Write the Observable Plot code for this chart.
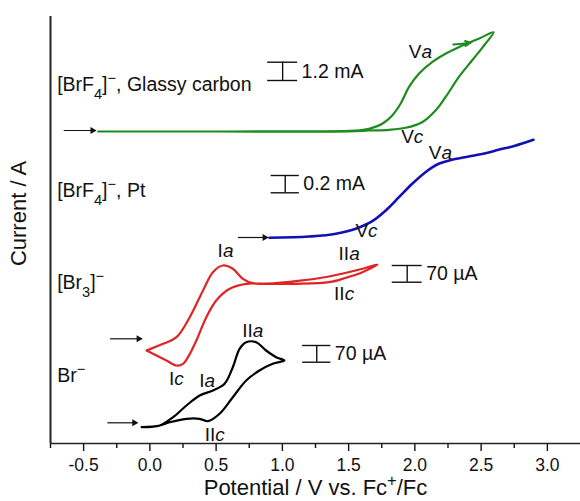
<!DOCTYPE html>
<html>
<head>
<meta charset="utf-8">
<script src="https://cdn.jsdelivr.net/npm/d3@7"></script>
<script src="https://cdn.jsdelivr.net/npm/@observablehq/plot@0.6"></script>
<style>
  html, body { margin: 0; padding: 0; background: #fff; }
  svg text { font-family: "Liberation Sans", Arial, sans-serif; }
</style>
</head>
<body>
<div id="chart"></div>
<script>
// ---- Data (potential in V vs Fc+/Fc, current as offset arbitrary units) ----
// [BrF4]-, Glassy carbon (forward then return)
const gcV = [-0.39, 0.5, 1.2, 1.55, 1.654, 1.754, 1.829, 1.892, 1.955, 2.030, 2.130, 2.231, 2.331, 2.481, 2.594, 2.532, 2.431, 2.331, 2.231, 2.156, 2.055, 1.930, 1.805, 1.654, 1.5, 0.5, -0.39];
const gcI = [31.2, 31.2, 31.22, 31.28, 31.47, 31.97, 32.8, 33.97, 35.63, 36.97, 38.13, 38.97, 39.63, 40.47, 41.13, 39.97, 38.3, 36.63, 34.63, 33.3, 32.13, 31.57, 31.37, 31.3, 31.22, 31.2, 31.2];
// [BrF4]-, Pt
const ptV = [0.902, 1.203, 1.404, 1.554, 1.679, 1.780, 1.880, 1.980, 2.080, 2.180, 2.280, 2.406, 2.532, 2.632, 2.75, 2.895];
const ptI = [20.57, 20.7, 20.97, 21.47, 22.23, 23.3, 24.63, 25.97, 27.13, 27.97, 28.37, 28.7, 29.03, 29.37, 29.75, 30.37];
// [Br3]-
const br3V = [-0.025, 0.100, 0.201, 0.301, 0.401, 0.476, 0.551, 0.626, 0.702, 0.777, 1.103, 1.353, 1.604, 1.717, 1.604, 1.479, 1.353, 1.103, 0.852, 0.727, 0.602, 0.501, 0.426, 0.351, 0.288, 0.250, 0.201, 0.125, 0.050, -0.025];
const br3I = [9.3, 9.97, 10.63, 12.63, 15.3, 17.13, 17.8, 17.47, 16.47, 16.03, 16.23, 16.7, 17.47, 17.9, 17.13, 16.57, 16.13, 15.97, 15.97, 15.97, 15.47, 14.3, 12.63, 10.3, 8.63, 7.97, 7.8, 8.3, 8.8, 9.3];
// Br-
const brV = [-0.062, 0.075, 0.175, 0.276, 0.376, 0.476, 0.564, 0.626, 0.677, 0.727, 0.802, 0.877, 0.953, 1.015, 0.927, 0.827, 0.727, 0.626, 0.526, 0.438, 0.376, 0.276, 0.150, 0.075, -0.062];
const brI = [1.63, 1.8, 2.63, 3.8, 4.8, 5.3, 5.97, 7.63, 9.47, 10.13, 10.13, 9.3, 8.63, 8.3, 7.97, 7.3, 6.3, 4.63, 2.97, 2.23, 2.47, 2.47, 2.13, 1.8, 1.63];

const seriesNames = ["[BrF_{4}]^{−}, Glassy carbon", "[BrF_{4}]^{−}, Pt", "[Br_{3}]^{−}", "Br^{−}"];
const seriesColors = ["#1f8a1f", "#1010b4", "#e02424", "#000000"];
const seriesCurves = ["catmull-rom", "monotone-x", "catmull-rom", "catmull-rom"];
const seriesLabelX = [-0.70, -0.70, -0.70, -0.70];
const seriesLabelY = [35.9, 25.3, 16.05, 6.75];

// Peak labels
const pkText = ["V*a*", "V*c*", "V*a*", "V*c*", "I*a*", "II*a*", "II*c*", "I*c*", "I*a*", "II*a*", "II*c*"];
const pkX = [2.042, 1.980, 2.193, 1.635, 0.571, 1.504, 1.466, 0.20, 0.432, 0.777, 0.489];
const pkY = [39.13, 30.63, 29.03, 21.3, 19.3, 19.0, 14.97, 6.5, 6.3, 11.3, 0.87];

// Scale bars
const sbText = ["1.2 mA", "0.2 mA", "70 µA", "70 µA"];
const sbX1 = [0.889, 0.915, 1.829, 1.153];
const sbX2 = [1.115, 1.128, 2.055, 1.366];
const sbTop = [38.13, 26.8, 17.8, 9.8];
const sbBot = [36.3, 25.07, 16.13, 8.13];

// Start-of-scan arrows
const arX1 = [-0.65, 0.664, -0.30, -0.321];
const arX2 = [-0.41, 0.889, -0.062, -0.095];
const arY = [31.3, 20.6, 10.47, 2.07];
// Scan-direction arrow on glassy carbon curve
const dirX1 = [2.29], dirX2 = [2.42], dirY1 = [39.9], dirY2 = [40.05];

// Axis ticks and titles
const majorTicks = [-0.5, 0.0, 0.5, 1.0, 1.5, 2.0, 2.5, 3.0];
const minorTicks = [-0.75, -0.25, 0.25, 0.75, 1.25, 1.75, 2.25, 2.75];
const xTitle = "Potential / V vs. Fc^{+}/Fc";
const yTitle = "Current / A";

// ---- Build tables ----
const toPts = (V, I) => V.map((v, i) => ({x: v, y: I[i]}));
const curves = [toPts(gcV, gcI), toPts(ptV, ptI), toPts(br3V, br3I), toPts(brV, brI)];
const seriesLabels = seriesNames.map((t, i) => ({t, x: seriesLabelX[i], y: seriesLabelY[i]}));
const peaks = pkText.map((t, i) => ({t, x: pkX[i], y: pkY[i]}));
const bars = sbText.map((t, i) => ({t, x1: sbX1[i], x2: sbX2[i], xm: (sbX1[i] + sbX2[i]) / 2, top: sbTop[i], bot: sbBot[i], ym: (sbTop[i] + sbBot[i]) / 2}));
const arrows = arX1.map((x1, i) => ({x1, x2: arX2[i], y: arY[i]}));
const dirArrows = dirX1.map((x1, i) => ({x1, x2: dirX2[i], y1: dirY1[i], y2: dirY2[i]}));

const X0 = -0.75, X1 = 3.25, Y0 = 0, Y1 = 42.7;

const lineMarks = curves.map((c, i) => Plot.line(c, {
  x: "x", y: "y", stroke: seriesColors[i], strokeWidth: i === 1 ? 2.6 : 2.2, curve: seriesCurves[i]
}));

const plot = Plot.plot({
  width: 580,
  height: 501,
  marginLeft: 50,
  marginRight: 0,
  marginTop: 16,
  marginBottom: 58,
  x: {domain: [X0, X1], axis: null},
  y: {domain: [Y0, Y1], axis: null},
  style: {fontFamily: "Liberation Sans, Arial, sans-serif", color: "#111", background: "#fff"},
  marks: [
    Plot.axisX(minorTicks, {tickSize: 5, tickFormat: () => "", strokeWidth: 1.4, label: null}),
    Plot.axisX(majorTicks, {tickSize: 8, tickPadding: 7, strokeWidth: 1.4, tickFormat: d => d.toFixed(1), fontSize: 17.5, label: null}),
    Plot.ruleX([X0], {y1: Y0, y2: Y1, strokeWidth: 2, stroke: "#222"}),
    Plot.ruleY([Y0], {x1: X0, x2: X1, strokeWidth: 1.6, stroke: "#222"}),
    ...lineMarks,
    // start arrows
    Plot.link(arrows, {x1: "x1", x2: "x2", y1: "y", y2: "y", stroke: "#111", strokeWidth: 1.2}),
    Plot.dot(arrows, {x: "x2", y: "y", symbol: "triangle", rotate: 90, r: 2.6, fill: "#111", stroke: "none", dx: -3}),
    // scan direction arrow
    Plot.arrow(dirArrows, {x1: "x1", y1: "y1", x2: "x2", y2: "y2", stroke: seriesColors[0], strokeWidth: 2, headLength: 9, headAngle: 50}),
    // scale bars
    Plot.ruleY(bars, {x1: "x1", x2: "x2", y: "top", stroke: "#111", strokeWidth: 1.4}),
    Plot.ruleY(bars, {x1: "x1", x2: "x2", y: "bot", stroke: "#111", strokeWidth: 1.4}),
    Plot.ruleX(bars, {x: "xm", y1: "bot", y2: "top", stroke: "#111", strokeWidth: 1.4}),
    Plot.text(bars, {x: "x2", y: "ym", text: "t", textAnchor: "start", dx: 4, fontSize: 19.5, fill: "#111"}),
    // series labels
    Plot.text(seriesLabels, {x: "x", y: "y", text: "t", textAnchor: "start", fontSize: 19.5, fill: "#111"}),
    // peak labels
    Plot.text(peaks, {x: "x", y: "y", text: "t", fontSize: 19, fill: "#111"}),
    // axis titles
    Plot.text([xTitle], {frameAnchor: "bottom", dy: 51, fontSize: 22, fill: "#111"}),
    Plot.text([yTitle], {x: () => -0.988, y: () => 23.0, rotate: -90, fontSize: 22, fill: "#111"})
  ]
});

// Rich text: _{sub}, ^{sup}, *italic*
function richify(svg) {
  svg.querySelectorAll("text").forEach(t => {
    if (t.querySelector("tspan")) return;
    const s = t.textContent;
    if (!/(_\{|\^\{|\*)/.test(s)) return;
    const parts = s.split(/(_\{[^}]*\}|\^\{[^}]*\}|\*[^*]*\*)/g).filter(p => p !== "");
    t.textContent = "";
    const ns = "http://www.w3.org/2000/svg";
    for (const p of parts) {
      const ts = document.createElementNS(ns, "tspan");
      if (p.startsWith("_{")) {
        ts.textContent = p.slice(2, -1);
        ts.setAttribute("baseline-shift", "sub");
        ts.setAttribute("font-size", "75%");
      } else if (p.startsWith("^{")) {
        ts.textContent = p.slice(2, -1);
        ts.setAttribute("baseline-shift", "super");
        ts.setAttribute("font-size", "75%");
      } else if (p.startsWith("*")) {
        ts.textContent = p.slice(1, -1);
        ts.setAttribute("font-style", "italic");
      } else {
        ts.textContent = p;
      }
      t.appendChild(ts);
    }
  });
}
richify(plot);
document.getElementById("chart").appendChild(plot);
</script>
</body>
</html>
